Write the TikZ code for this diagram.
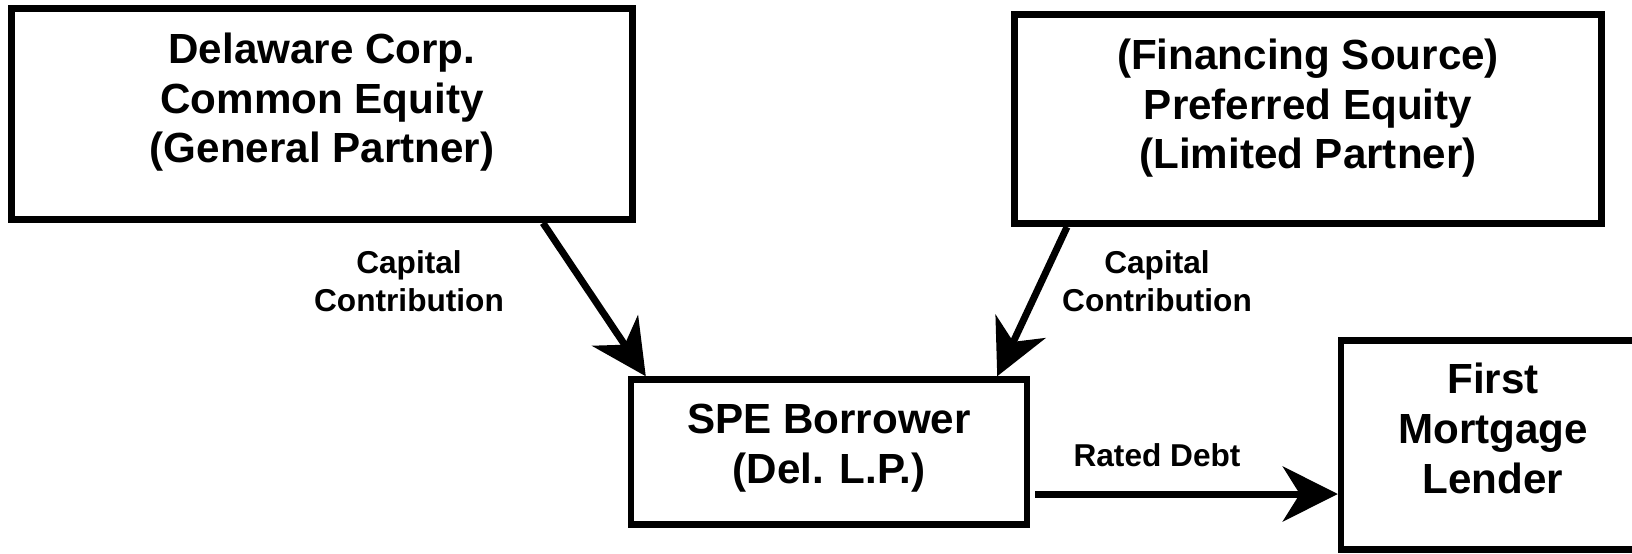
\documentclass[tikz,border=0pt]{standalone}
\usepackage{fontspec}
\setmainfont{Liberation Sans}
\usetikzlibrary{arrows.meta,calc}

\begin{document}
\begin{tikzpicture}[x=0.02cm,y=-0.02cm,
    >={Stealth[length=1.1cm,width=1.1cm,inset=0.34cm]},
    party/.style={draw,line width=0.13cm,inner sep=0pt},
    partyname/.style={anchor=north,inner sep=0pt,align=center,
      font=\fontsize{24}{28.2}\selectfont\bfseries},
    flowlabel/.style={inner sep=0pt,align=center,
      font=\fontsize{18}{21.3}\selectfont\bfseries},
    flow/.style={->,line width=0.14cm}]
  \useasboundingbox (0,0) rectangle (1632,554);
  \clip (0,0) rectangle (1632,554);
  % the four parties
  \node[party,minimum width=12.43cm,minimum height=4.23cm] (gp) at (322,114) {};
  \node[party,minimum width=11.74cm,minimum height=4.19cm] (lp) at (1308,119) {};
  \node[party,minimum width=7.92cm,minimum height=2.9cm] (spe) at (829,452) {};
  \node[party,minimum width=6.08cm,minimum height=4.18cm] (lender) at (1493,445) {};
  \node[partyname] (gp-name) at (322,33) {Delaware Corp.\\Common Equity\\(General Partner)};
  \node[partyname] (lp-name) at (1308,39) {(Financing Source)\\Preferred Equity\\(Limited Partner)};
  \node[partyname] (spe-name) at (829,404) {SPE Borrower\\(Del. L.P.)};
  \node[partyname] (lender-name) at (1493,363) {First\\Mortgage\\Lender};
  % money flows
  \draw[flow] ($(gp.south)+(221,0)$) -- ($(spe.north west)+(18,0)$);
  \draw[flow] ($(lp.south)+(-241,0)$) -- ($(spe.north east)+(-33,0)$);
  \draw[flow] ($(spe.east)+(5,42)$) -- ($(lender.west)+(0,49)$);
  \node[flowlabel] (gp-cap) at (409,281) {Capital\\Contribution};
  \node[flowlabel] (lp-cap) at (1157,281) {Capital\\Contribution};
  \node[flowlabel] (debt) at (1157,455) {Rated Debt};
\end{tikzpicture}
\end{document}
